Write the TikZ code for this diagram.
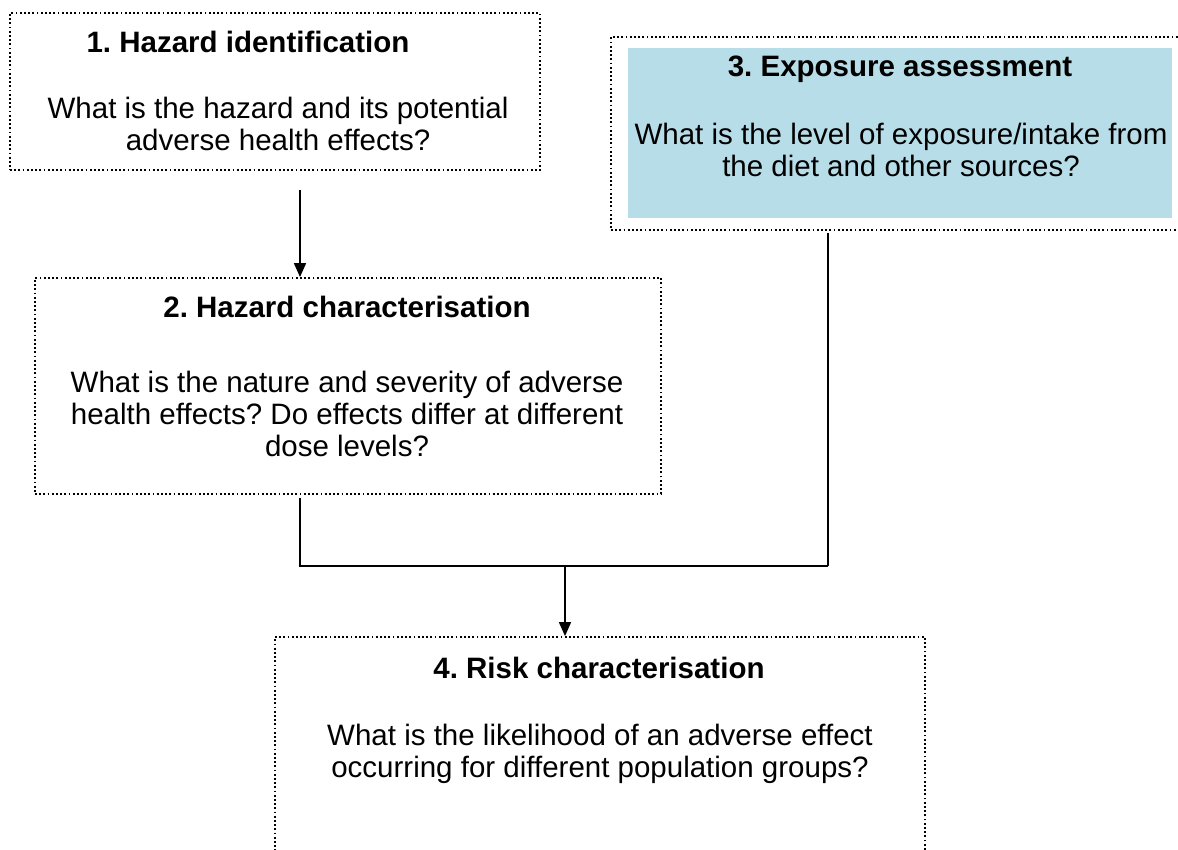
\documentclass[tikz,border=0pt]{standalone}
\usepackage{fontspec}
\setmainfont{Liberation Sans}
\usetikzlibrary{arrows.meta,calc}
\definecolor{paleblue}{HTML}{B7DDE8}
\begin{document}
\frenchspacing
\begin{tikzpicture}[x=1pt,y=-1pt,
  dotbox/.style={draw=black,line width=1.8pt,dash pattern=on 1.8pt off 2.4pt,inner sep=0pt},
  conn/.style={draw=black,line width=1.6pt},
  arr/.style={conn,-{Triangle[length=14pt,width=12pt]}},
  ttl/.style={font=\fontsize{29.5}{32}\selectfont\bfseries,anchor=base,inner sep=0pt},
  body/.style={font=\fontsize{29.5}{32}\selectfont,align=center,anchor=base,inner sep=0pt}]
\useasboundingbox (0,0) rectangle (1178,850);
% boxes
\node[dotbox,minimum width=530pt,minimum height=157pt] (b1) at (275,91.5) {};
\node[dotbox,minimum width=626pt,minimum height=216pt] (b2) at (348,386) {};
\node[dotbox,minimum width=590pt,minimum height=193pt] (f3) at (906,133.5) {};
\node[fill=paleblue,inner sep=0pt,minimum width=544pt,minimum height=170pt] (b3) at (900,133) {};
\node[dotbox,minimum width=650pt,minimum height=260pt] (b4) at (600,767) {};
% texts (base anchor = baseline of last line)
\node[ttl] (t1) at (248,53) {1. Hazard identification};
\node[body] (q1) at (278,151) {What is the hazard and its potential\\adverse health effects?};
\node[ttl] (t2) at (347,317) {2. Hazard characterisation};
\node[body] (q2) at (347,456) {What is the nature and severity of adverse\\health effects? Do effects differ at different\\dose levels?};
\node[ttl] (t3) at (900,77) {3. Exposure assessment};
\node[body] (q3) at (901,177) {What is the level of exposure/intake from\\the diet and other sources?};
\node[ttl] (t4) at (599,678) {4. Risk characterisation};
\node[body] (q4) at (600,777) {What is the likelihood of an adverse effect\\occurring for different population groups?};
% connectors
\coordinate (s1) at ([shift={(25,19)}]b1.south);
\draw[arr] (s1) -- (s1 |- b2.north);
\coordinate (s2) at ([shift={(-48,3)}]b2.south);
\coordinate (s3) at ([shift={(-78,2)}]f3.south);
\coordinate (j) at (565,566);
\draw[conn] (s2) -- (s2 |- j) -- (s3 |- j);
\draw[conn] (s3) -- (s3 |- j);
\draw[arr] (j) -- (j |- b4.north);
\end{tikzpicture}
\end{document}
